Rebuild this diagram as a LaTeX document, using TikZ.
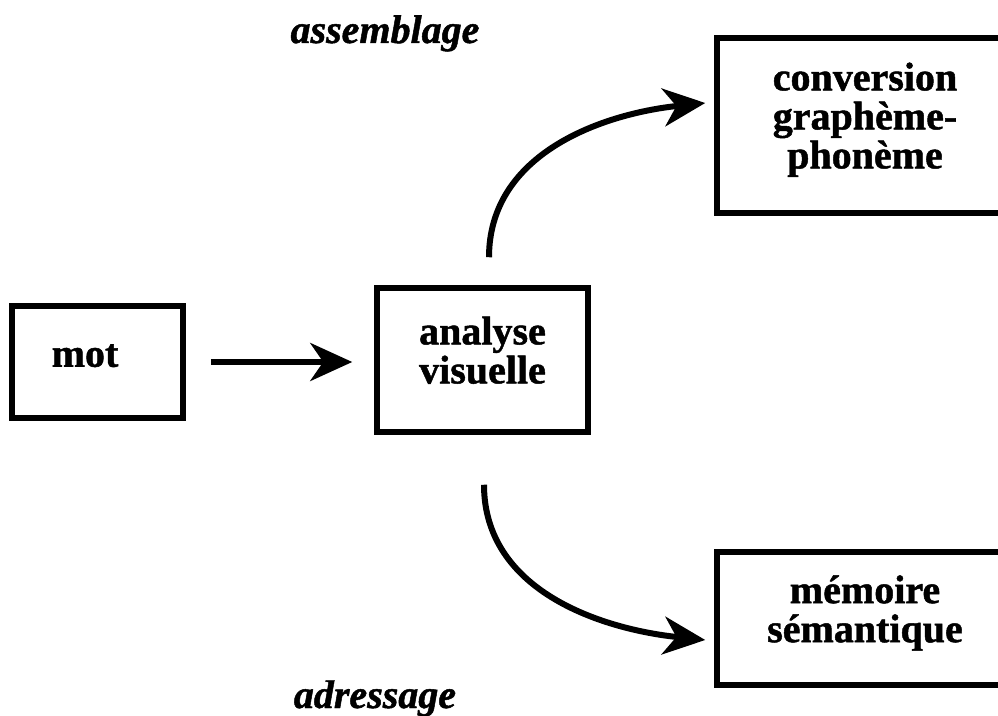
\documentclass[tikz,border=0pt]{standalone}
\usepackage{fontspec}
\setmainfont{Liberation Serif}[BoldFeatures={FakeBold=1.2},BoldItalicFeatures={FakeBold=1.2}]
\usetikzlibrary{arrows.meta}
\begin{document}
\begin{tikzpicture}[x=1pt,y=1pt,
  box/.style={draw, line width=5.5pt, inner sep=0pt, align=center,
    font=\fontsize{40}{39}\selectfont\bfseries},
  flow/.style={line width=6pt, -{Stealth[length=42pt,width=38pt,inset=13pt]}},
  lab/.style={font=\fontsize{40}{39}\selectfont\bfseries\itshape, anchor=base}]
\useasboundingbox (0,0) rectangle (998,715);
\clip (0,0) rectangle (998,715);
\fill[white] (0,0) rectangle (998,715);
\node[box, minimum width=171pt, minimum height=112pt] (mot) at (97.5,353)
  {mot\kern25pt\rule[-13pt]{0pt}{13pt}};
\node[box, minimum width=211pt, minimum height=144pt] (ana) at (482.5,355)
  {analyse\\visuelle\rule[-20pt]{0pt}{20pt}};
\node[box, minimum width=296pt, minimum height=175pt] (conv) at (865,589.5)
  {conversion\\graphème-\\phonème\rule[-20pt]{0pt}{20pt}};
\node[box, minimum width=296pt, minimum height=133pt] (mem) at (865,96.5)
  {mémoire\\sémantique\rule[-19.5pt]{0pt}{19.5pt}};
\node[lab] (asm) at (385,672) {assemblage};
\node[lab] (adr) at (375,7) {adressage};
\draw[flow, shorten <=25pt, shorten >=22pt] (mot.east) -- (mot.east -| ana.west);
\draw[flow] ([xshift=6.5pt,yshift=28pt]ana.north) to[out=90,in=186]
  ([xshift=-9pt,yshift=22.5pt]conv.west);
\draw[flow] ([xshift=1.5pt,yshift=-50pt]ana.south) to[out=-90,in=174]
  ([xshift=-9pt,yshift=-21.5pt]mem.west);
\end{tikzpicture}
\end{document}
